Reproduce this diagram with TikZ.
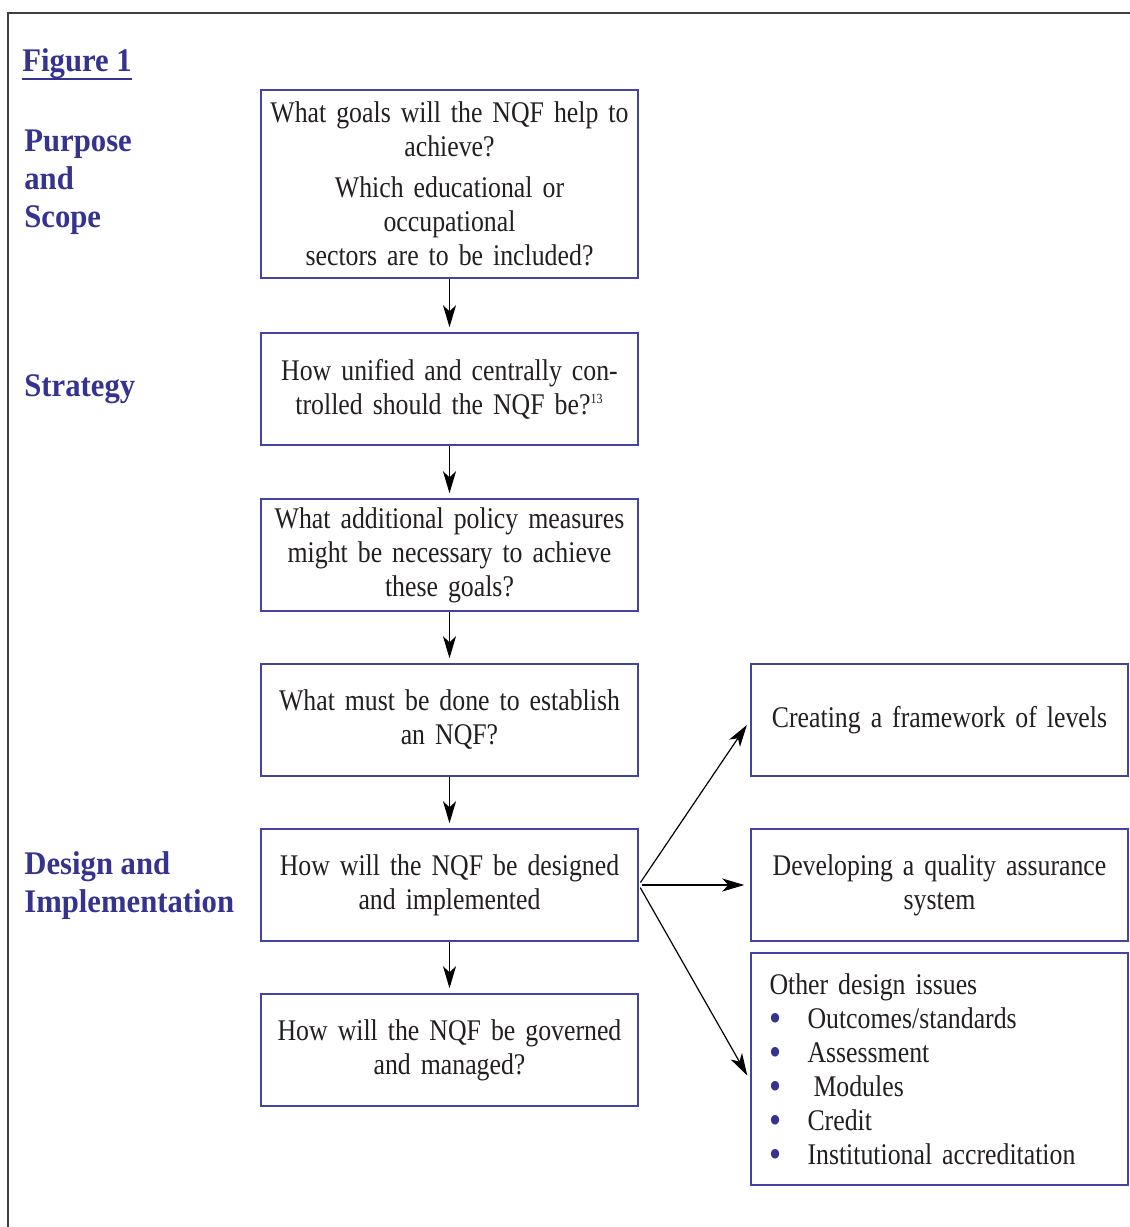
\documentclass[tikz,border=0pt]{standalone}
\usepackage{fontspec}
\setmainfont[FakeStretch=0.86]{Liberation Serif}
\newfontfamily\headfont[FakeStretch=0.93]{Liberation Serif}
\usepackage{tikz}
\usetikzlibrary{arrows.meta,calc}
\usetikzlibrary{positioning}
\definecolor{nqfblue}{HTML}{35338F}
\definecolor{boxblue}{HTML}{4343A3}
\definecolor{inkgray}{HTML}{231F20}
\definecolor{framegray}{HTML}{404040}
\newcommand{\qfont}{\fontsize{15}{17}\selectfont\spaceskip=2.4pt plus 1pt minus 0.5pt\relax}
\tikzset{
  qbox/.style={
    rectangle,
    draw=boxblue, line width=0.75pt,
    minimum width=188.5pt,
    minimum height=56pt,
    text width=182pt,
    inner sep=2pt,
    align=center,
    text=inkgray,
    font=\qfont,
  },
  lbl/.style={
    inner sep=0pt,
    anchor=west,
    align=left,
    text=nqfblue,
    font=\headfont\bfseries\fontsize{16.5}{19}\selectfont,
  },
  flow/.style={->, line width=0.75pt, shorten >=2.5pt},
  fan/.style={->, line width=0.6pt, shorten <=1.5pt, shorten >=3pt},
}
\newcommand{\bul}{\makebox[19pt][l]{\smash{\raisebox{-1.6pt}{\textcolor{nqfblue}{\fontsize{20}{17}\selectfont\textbullet}}}}}

\begin{document}
\begin{tikzpicture}[x=0.5pt, y=-0.5pt, >={Stealth[length=11pt,width=6.5pt,inset=3pt]}]
  \useasboundingbox (0,0) rectangle (1130,1227);
  \draw[framegray, line width=1pt] (8,1227) -- (8,13) -- (1130,13);

  % labels on the left
  \node[lbl, anchor=base west] (fig) at (22,71) {Figure 1};
  \draw[nqfblue, line width=1pt] (fig.south west) -- (fig.south east);
  \node[lbl] (purpose) at (24,182) {Purpose\\and\\Scope};
  \node[lbl] (strategy) at (24,389) {Strategy};
  \node[lbl] (design) at (24,886) {Design and\\Implementation};

  % question boxes
  \node[qbox, minimum height=94pt] (q1) at (449.5,184)
  {
    What goals will the NQF help to\\achieve?\\[3.5pt]
    Which educational or\\occupational\\sectors are to be included?
  };
  \node[qbox, below of=q1, node distance=102.5pt] (q2)
  {
    How unified and centrally con-\\trolled should the NQF be?\textsuperscript{\scriptsize 13}
  };
  \node[qbox, below of=q2, node distance=83pt] (q3)
  {
    What additional policy measures\\might be necessary to achieve\\these goals?
  };
  \node[qbox, below of=q3, node distance=82.5pt] (q4)
  {
    What must be done to establish\\an NQF?
  };
  \node[qbox, below of=q4, node distance=82.5pt] (q5)
  {
    How will the NQF be designed\\and implemented
  };
  \node[qbox, below of=q5, node distance=82.5pt] (q6)
  {
    How will the NQF be governed\\and managed?
  };

  % design tasks
  \node[qbox, right of=q4, node distance=245pt] (r1)
  {
    Creating a framework of levels
  };
  \node[qbox, right of=q5, node distance=245pt] (r2)
  {
    Developing a quality assurance\\system
  };
  \node[qbox, below of=r2, node distance=92pt, minimum height=116pt,
        align=left, text width=170pt, inner xsep=9pt] (r3)
  {
    Other design issues\\
    \bul Outcomes/standards\\
    \bul Assessment\\
    \bul\hspace{3pt}Modules\\
    \bul Credit\\
    \bul Institutional accreditation
  };

  \path[flow] (q1) edge (q2)
              (q2) edge (q3)
              (q3) edge (q4)
              (q4) edge (q5)
              (q5) edge (q6);
  \path[fan] (q5.east) edge (r1.west)
             (q5.east) edge (r2.west)
             (q5.east) edge ($(r3.north west)!0.55!(r3.south west)$);
\end{tikzpicture}
\end{document}
